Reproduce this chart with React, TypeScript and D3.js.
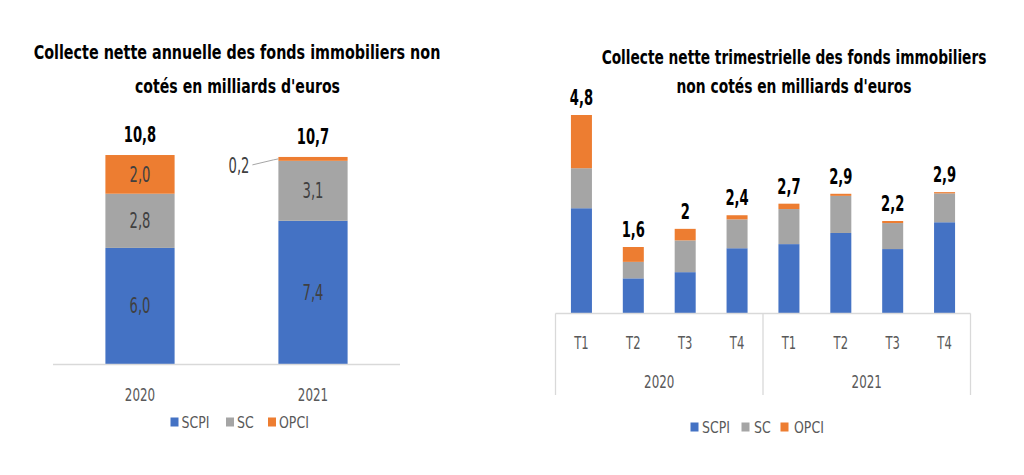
import React, { useLayoutEffect, useRef, useState } from "react";
import * as d3 from "d3";

// ---------- Data ----------
const annualCategories = ["2020", "2021"];
const annualSCPI = [6.0, 7.4];
const annualSC = [2.8, 3.1];
const annualOPCI = [2.0, 0.2];
const annualTotals = ["10,8", "10,7"];
const annualSegLabels = [
  ["6,0", "2,8", "2,0"],
  ["7,4", "3,1", "0,2"],
];

const quarterLabels = ["T1", "T2", "T3", "T4", "T1", "T2", "T3", "T4"];
const quarterYears = ["2020", "2021"];
const quarterSCPI = [2.54, 0.84, 0.99, 1.57, 1.67, 1.94, 1.55, 2.2];
const quarterSC = [0.97, 0.4, 0.77, 0.7, 0.85, 0.9, 0.63, 0.7];
const quarterOPCI = [1.29, 0.36, 0.28, 0.1, 0.13, 0.05, 0.05, 0.03];
const quarterTotals = ["4,8", "1,6", "2", "2,4", "2,7", "2,9", "2,2", "2,9"];

const seriesNames = ["SCPI", "SC", "OPCI"];
const colors = ["#4472C4", "#A5A5A5", "#ED7D31"];

const FONT = "'DejaVu Sans', sans-serif";
const axisColor = "#D9D9D9";
const labelGrey = "#595959";
const segText = "#404040";

function stackRows(a: number[], b: number[], c: number[]) {
  const rows = a.map((_, i) => ({ i, SCPI: a[i], SC: b[i], OPCI: c[i] }));
  return d3.stack<any>().keys(seriesNames)(rows);
}

// condensed text: horizontal squash around its anchor
function T(props: any) {
  const { x, y, sx, children, ...rest } = props;
  return (
    <text transform={`translate(${x},${y}) scale(${sx},1)`} {...rest}>
      {children}
    </text>
  );
}

// text fitted to a target width by horizontal scaling
function FitText(props: any) {
  const { x, y, width, children, ...rest } = props;
  const ref = useRef<SVGTextElement>(null);
  const [sx, setSx] = useState(0.8);
  useLayoutEffect(() => {
    if (ref.current) {
      const len = ref.current.getComputedTextLength();
      if (len > 0) setSx(width / len);
    }
  }, [width, children]);
  return (
    <text ref={ref} transform={`translate(${x},${y}) scale(${sx},1)`} {...rest}>
      {children}
    </text>
  );
}

export default function App() {
  // ---------- Left chart ----------
  const xA = d3.scaleBand<string>().domain(annualCategories).range([53.5, 399.5]);
  const yA = d3.scaleLinear().domain([0, 12]).range([364, 364 - 12 * 19.35]);
  const stackA = stackRows(annualSCPI, annualSC, annualOPCI);
  const bwA = xA.bandwidth() * 0.4;

  // ---------- Right chart ----------
  const idx = quarterLabels.map((_, i) => String(i));
  const xQ = d3.scaleBand<string>().domain(idx).range([555.5, 970.5]);
  const yQ = d3.scaleLinear().domain([0, 5]).range([313, 313 - 5 * 41.25]);
  const stackQ = stackRows(quarterSCPI, quarterSC, quarterOPCI);
  const bwQ = xQ.bandwidth() * 0.405;

  const x2021a = xA("2021")! + (xA.bandwidth() - bwA) / 2;
  const opciMid = yA(annualSCPI[1] + annualSC[1] + annualOPCI[1] / 2);

  const legend = (x0: number, y: number, offs: number[][]) =>
    seriesNames.map((s, k) => (
      <g key={s}>
        <rect x={x0 + offs[k][0]} y={y - 4.5} width={8} height={9} fill={colors[k]} />
        <T x={x0 + offs[k][1]} y={y} sx={0.76} dy="0.36em" fontSize={16.5} fill={labelGrey}>
          {s}
        </T>
      </g>
    ));

  return (
    <svg
      width={1024}
      height={475}
      style={{ position: "absolute", left: 0, top: 0, background: "#fff" }}
      fontFamily={FONT}
    >
      <rect width={1024} height={475} fill="#fff" />
      {/* Left title */}
      <FitText x={237} y={59} width={407} textAnchor="middle" fontSize={20} fontWeight="bold" fill="#000">
        Collecte nette annuelle des fonds immobiliers non
      </FitText>
      <FitText x={237.5} y={93} width={205} textAnchor="middle" fontSize={20} fontWeight="bold" fill="#000">
        cotés en milliards d'euros
      </FitText>

      {/* Left bars */}
      {stackA.map((layer, k) =>
        layer.map((d, i) => {
          const x = xA(annualCategories[i])! + (xA.bandwidth() - bwA) / 2;
          return (
            <rect
              key={`a${k}-${i}`}
              x={x}
              y={yA(d[1])}
              width={bwA}
              height={yA(d[0]) - yA(d[1])}
              fill={colors[k]}
            />
          );
        })
      )}
      {/* Left segment labels */}
      {stackA.map((layer, k) =>
        layer.map((d, i) => {
          if (i === 1 && k === 2) return null;
          const cx = xA(annualCategories[i])! + xA.bandwidth() / 2;
          return (
            <T key={`al${k}-${i}`} x={cx} y={yA((d[0] + d[1]) / 2)} sx={0.64} dy="0.36em" textAnchor="middle" fontSize={20.5} fill={segText}>
              {annualSegLabels[i][k]}
            </T>
          );
        })
      )}
      {/* 0,2 callout */}
      <polyline
        points={`${x2021a - 26},${opciMid + 6} ${x2021a - 5},${opciMid + 1} ${x2021a},${opciMid}`}
        fill="none"
        stroke="#A6A6A6"
        strokeWidth={1}
      />
      <T x={x2021a - 29} y={opciMid + 7} sx={0.64} dy="0.36em" textAnchor="end" fontSize={20.5} fill={segText}>
        {annualSegLabels[1][2]}
      </T>
      {/* Left totals */}
      {annualTotals.map((t, i) => {
        const cx = xA(annualCategories[i])! + xA.bandwidth() / 2;
        const top = stackA[2][i][1];
        return (
          <T key={`at${i}`} x={cx} y={yA(top) - 13} sx={0.64} textAnchor="middle" fontSize={20.5} fontWeight="bold" fill="#000">
            {t}
          </T>
        );
      })}
      {/* Left axis */}
      <line x1={53} x2={400} y1={364.5} y2={364.5} stroke={axisColor} strokeWidth={1.3} />
      {annualCategories.map((c) => (
        <T key={c} x={xA(c)! + xA.bandwidth() / 2} y={395} sx={0.7} dy="0.36em" textAnchor="middle" fontSize={17} fill={labelGrey}>
          {c}
        </T>
      ))}
      {legend(170.5, 422, [[0, 11], [55.5, 66.5], [97.5, 108.5]])}

      {/* Right title */}
      <FitText x={794} y={64} width={385} textAnchor="middle" fontSize={20} fontWeight="bold" fill="#000">
        Collecte nette trimestrielle des fonds immobiliers
      </FitText>
      <FitText x={794} y={93} width={235} textAnchor="middle" fontSize={20} fontWeight="bold" fill="#000">
        non cotés en milliards d'euros
      </FitText>

      {/* Right bars */}
      {stackQ.map((layer, k) =>
        layer.map((d, i) => {
          const x = xQ(String(i))! + (xQ.bandwidth() - bwQ) / 2;
          return (
            <rect
              key={`q${k}-${i}`}
              x={x}
              y={yQ(d[1])}
              width={bwQ}
              height={yQ(d[0]) - yQ(d[1])}
              fill={colors[k]}
            />
          );
        })
      )}
      {quarterTotals.map((t, i) => {
        const cx = xQ(String(i))! + xQ.bandwidth() / 2;
        const top = stackQ[2][i][1];
        return (
          <T key={`qt${i}`} x={cx} y={yQ(top) - 10} sx={0.64} textAnchor="middle" fontSize={20.5} fontWeight="bold" fill="#000">
            {t}
          </T>
        );
      })}
      {/* Right axis */}
      <line x1={555.5} x2={970.5} y1={313.5} y2={313.5} stroke={axisColor} strokeWidth={1.3} />
      {[0, 4, 8].map((b) => {
        const x = b === 8 ? xQ.range()[1] : xQ(String(b))!;
        return <line key={`v${b}`} x1={x} x2={x} y1={313.5} y2={395} stroke={axisColor} strokeWidth={1.3} />;
      })}
      {quarterLabels.map((q, i) => (
        <T key={`ql${i}`} x={xQ(String(i))! + xQ.bandwidth() / 2} y={343} sx={0.68} dy="0.36em" textAnchor="middle" fontSize={17} fill={labelGrey}>
          {q}
        </T>
      ))}
      {quarterYears.map((yr, j) => (
        <T key={yr} x={(xQ(String(j * 4))! + xQ(String(j * 4 + 3))! + xQ.bandwidth()) / 2} y={382} sx={0.7} dy="0.36em" textAnchor="middle" fontSize={17} fill={labelGrey}>
          {yr}
        </T>
      ))}
      {legend(690.5, 427, [[0, 11.5], [51, 63.5], [90, 103.5]])}
    </svg>
  );
}
